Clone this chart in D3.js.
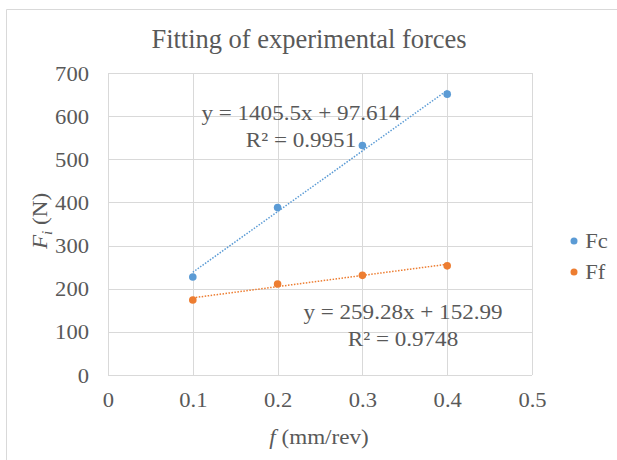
<!DOCTYPE html>
<html>
<head>
<meta charset="utf-8">
<script src="https://cdn.jsdelivr.net/npm/d3@7"></script>
<style>
  body { margin: 0; background: #fff; }
  text { font-family: "Liberation Serif", "Times New Roman", serif; fill: #595959; }
</style>
</head>
<body>
<svg id="chart" width="617" height="460"></svg>
<script>
// feed rates (mm/rev)
const feeds = [0.1, 0.2, 0.3, 0.4];
const fc = [227, 388, 532, 651];
const ff = [174, 211, 231, 253];

const fcFit = { slope: 1405.5, intercept: 97.614, eq: 'y = 1405.5x + 97.614', r2: 'R² = 0.9951' };
const ffFit = { slope: 259.28, intercept: 152.99, eq: 'y = 259.28x + 152.99', r2: 'R² = 0.9748' };

const xTicks = [0, 0.1, 0.2, 0.3, 0.4, 0.5];
const yTicks = [0, 100, 200, 300, 400, 500, 600, 700];

const series = [
	{ name: 'Fc', values: fc, fit: fcFit, colour: '#5B9BD5' },
	{ name: 'Ff', values: ff, fit: ffFit, colour: '#ED7D31' }
];

const svg = d3.select('#chart');
const margin = { left: 108, right: 532, top: 73, bottom: 375 };
// the original text is a bit wider than Liberation Serif
const SX = 1.13;

const x = d3.scaleLinear().domain([0, 0.5]).range([margin.left, margin.right]);
const y = d3.scaleLinear().domain([0, 700]).range([margin.bottom, margin.top]);

// chart border
svg.append('path')
	.attr('d', 'M6.5,470 V9.5 H630')
	.attr('fill', 'none')
	.attr('stroke', '#d9d9d9')
	.attr('stroke-width', 1);

// gridlines
svg.append('g')
	.selectAll('line')
	.data(yTicks)
	.enter()
	.append('line')
	.attr('x1', margin.left)
	.attr('x2', margin.right)
	.attr('y1', d => Math.round(y(d)) + 0.5)
	.attr('y2', d => Math.round(y(d)) + 0.5)
	.attr('stroke', '#d9d9d9');

svg.append('g')
	.selectAll('line')
	.data(xTicks)
	.enter()
	.append('line')
	.attr('x1', d => Math.round(x(d)) + 0.5)
	.attr('x2', d => Math.round(x(d)) + 0.5)
	.attr('y1', margin.top)
	.attr('y2', margin.bottom)
	.attr('stroke', '#d9d9d9');

// tick labels via d3 axes
const yAxis = svg.append('g')
	.attr('transform', `translate(${margin.left - 19},0)`)
	.call(d3.axisLeft(y).tickValues(yTicks).tickSize(0).tickPadding(0));
yAxis.select('.domain').remove();
yAxis.selectAll('text')
	.style('font-size', '20px')
	.style('font-family', '"Liberation Serif", serif')
	.attr('fill', '#595959')
	.attr('dy', '0.35em')
	.attr('transform', `scale(${SX},1)`);

const xAxis = svg.append('g')
	.attr('transform', `translate(0,${margin.bottom + 17})`)
	.call(d3.axisBottom(x).tickValues(xTicks).tickFormat(d => d === 0 ? '0' : d3.format('.1f')(d)).tickSize(0).tickPadding(0));
xAxis.select('.domain').remove();
xAxis.selectAll('text')
	.style('font-size', '20px')
	.style('font-family', '"Liberation Serif", serif')
	.attr('fill', '#595959')
	.attr('dy', '0.75em')
	.attr('transform', `scale(${SX},1)`);

// trendlines + points
const line = d3.line().x(d => x(d[0])).y(d => y(d[1]));
series.forEach(s => {
	const x0 = feeds[0], x1 = feeds[feeds.length - 1];
	svg.append('path')
		.datum([[x0, s.fit.slope * x0 + s.fit.intercept], [x1, s.fit.slope * x1 + s.fit.intercept]])
		.attr('d', line)
		.attr('fill', 'none')
		.attr('stroke', s.colour)
		.attr('stroke-width', 1.5)
		.attr('stroke-dasharray', '1.5,1.5');

	svg.append('g')
		.selectAll('circle')
		.data(s.values)
		.enter()
		.append('circle')
		.attr('cx', (d, i) => x(feeds[i]))
		.attr('cy', d => y(d))
		.attr('r', 3.8)
		.attr('fill', s.colour);
});

// helper: text placed at (cx, cy) and stretched horizontally
function stretched(cx, cy, size, sx) {
	return svg.append('text')
		.attr('transform', `translate(${cx},${cy}) scale(${sx},1)`)
		.attr('text-anchor', 'middle')
		.style('font-size', size + 'px');
}

// equation labels
const labels = [
	{ fit: fcFit, cx: 301, cy: 113 },
	{ fit: ffFit, cx: 403, cy: 312 }
];
labels.forEach(l => {
	const t = stretched(l.cx, l.cy, 21, 1.1);
	t.append('tspan').attr('x', 0).attr('y', 0).attr('dy', '0.35em').text(l.fit.eq);
	t.append('tspan').attr('x', 0).attr('y', 27).attr('dy', '0.35em').text(l.fit.r2);
});

// title
stretched(309, 48, 27, 0.98).text('Fitting of experimental  forces');

// y axis title
const yt = svg.append('text')
	.attr('transform', 'translate(40,221) rotate(-90) scale(1.1,1)')
	.attr('text-anchor', 'middle')
	.attr('dy', '0.35em')
	.style('font-size', '21px');
yt.append('tspan').style('font-style', 'italic').text('F');
yt.append('tspan').style('font-style', 'italic').style('font-size', '14px').attr('dy', '5').text('i');
yt.append('tspan').attr('dy', '-5').text(' (N)');

// x axis title
const xt = stretched(319, 437, 21, 1.1).attr('dy', '0.35em');
xt.append('tspan').style('font-style', 'italic').text('f');
xt.append('tspan').text(' (mm/rev)');

// legend
const legend = svg.append('g')
	.selectAll('g')
	.data(series)
	.enter()
	.append('g')
	.attr('transform', (d, i) => `translate(574,${241 + i * 31})`);
legend.append('circle').attr('r', 3.5).attr('fill', d => d.colour);
legend.append('text')
	.attr('x', 10)
	.attr('dy', '0.35em')
	.attr('transform', `scale(${SX},1)`)
	.style('font-size', '20px')
	.text(d => d.name);
</script>
</body>
</html>
